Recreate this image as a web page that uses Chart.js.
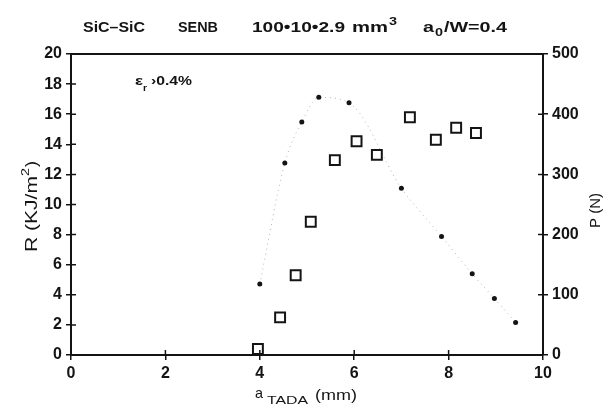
<!DOCTYPE html>
<html>
<head>
<meta charset="utf-8">
<script src="https://cdn.jsdelivr.net/npm/chart.js@4/dist/chart.umd.min.js"></script>
<style>
  html, body { margin: 0; padding: 0; background: #fff; }
  #wrap { width: 606px; height: 406px; }
</style>
</head>
<body>
<div id="wrap"><canvas id="c" width="606" height="406"></canvas></div>
<script>
// Crack resistance R (kJ/m²) against crack length a (mm)
const crackLenR = [3.96, 4.43, 4.76, 5.08, 5.59, 6.05, 6.48, 7.18, 7.73, 8.16, 8.58];
const resistanceR = [0.4, 2.5, 5.3, 8.85, 12.95, 14.2, 13.3, 15.8, 14.3, 15.1, 14.75];

// Load P (N) against crack length a (mm)
const crackLenP = [4.0, 4.53, 4.89, 5.25, 5.89, 7.0, 7.85, 8.5, 8.97, 9.42];
const loadP = [118, 319, 387, 428, 419, 277, 197, 135, 94, 54];

// Axis ranges and tick steps
const xRange = [0, 10], xStep = 2;
const rRange = [0, 20], rStep = 2;
const pRange = [0, 500], pStep = 100;

const INK = '#141414';
const FONT = '"Liberation Sans", Arial, sans-serif';

const toPoints = (xs, ys) => xs.map((x, i) => ({ x, y: ys[i] }));

// Draw a text run squeezed/stretched horizontally to a given width
function fitText(ctx, text, x, y, width, font) {
  ctx.save();
  ctx.font = font;
  const w = ctx.measureText(text).width;
  ctx.translate(x, y);
  ctx.scale(width / w, 1);
  ctx.fillText(text, 0, 0);
  ctx.restore();
}

const decorations = {
  id: 'decorations',
  afterDraw(chart) {
    const { ctx, chartArea: a, scales } = chart;
    ctx.save();
    ctx.fillStyle = INK;
    ctx.strokeStyle = INK;
    ctx.textBaseline = 'alphabetic';
    ctx.textAlign = 'left';

    // top frame line
    ctx.lineWidth = 2;
    ctx.beginPath();
    ctx.moveTo(a.left - 1, a.top);
    ctx.lineTo(a.right + 1, a.top);
    ctx.stroke();

    // tick marks reaching into the plot area
    ctx.lineWidth = 1.5;
    ctx.beginPath();
    scales.x.ticks.forEach(t => {
      const px = scales.x.getPixelForValue(t.value);
      ctx.moveTo(px, a.bottom);
      ctx.lineTo(px, a.bottom - 5);
    });
    scales.y.ticks.forEach(t => {
      const py = scales.y.getPixelForValue(t.value);
      ctx.moveTo(a.left, py);
      ctx.lineTo(a.left + 5, py);
    });
    scales.y1.ticks.forEach(t => {
      const py = scales.y1.getPixelForValue(t.value);
      ctx.moveTo(a.right, py);
      ctx.lineTo(a.right - 5, py);
    });
    ctx.stroke();

    // heading
    const hb = 'bold 15px ' + FONT;
    const hs = 'bold 11px ' + FONT;
    fitText(ctx, 'SiC\u2013SiC', 83, 32, 62, hb);
    fitText(ctx, 'SENB', 178, 32, 40, hb);
    fitText(ctx, '100\u202210\u20222.9', 252, 32, 93, hb);
    fitText(ctx, 'mm', 352, 32, 36, hb);
    fitText(ctx, '3', 389, 25, 8, hs);
    fitText(ctx, 'a', 423, 32, 11, hb);
    fitText(ctx, '0', 435, 36, 8, hs);
    fitText(ctx, '/W=0.4', 444, 32, 63, hb);

    // strain note inside the plot
    fitText(ctx, '\u03b5', 135, 85, 8, 'bold 13px ' + FONT);
    fitText(ctx, 'r', 143, 91, 4, 'bold 9px ' + FONT);
    fitText(ctx, '\u203a0.4%', 151, 85, 41, 'bold 13px ' + FONT);

    // x-axis title
    fitText(ctx, 'a', 255, 398, 8, '15px ' + FONT);
    fitText(ctx, 'TADA', 267, 404, 41, '10px ' + FONT);
    fitText(ctx, '(mm)', 315, 400, 42, '15px ' + FONT);

    // left axis title
    ctx.save();
    ctx.translate(37, 252);
    ctx.rotate(-Math.PI / 2);
    fitText(ctx, 'R (KJ/m', 0, 0, 76, '16px ' + FONT);
    fitText(ctx, '2', 76, -8, 8, '11px ' + FONT);
    fitText(ctx, ')', 85, 0, 6, '16px ' + FONT);
    ctx.restore();

    // right axis title
    ctx.save();
    ctx.translate(600, 228);
    ctx.rotate(-Math.PI / 2);
    fitText(ctx, 'P (N)', 0, 0, 35, '14px ' + FONT);
    ctx.restore();

    ctx.restore();
  }
};

const tickFont = { family: FONT, size: 16, weight: 'bold' };

new Chart(document.getElementById('c'), {
  type: 'scatter',
  data: {
    datasets: [
      {
        label: 'R',
        data: toPoints(crackLenR, resistanceR),
        yAxisID: 'y',
        pointStyle: 'rect',
        radius: 7,
        borderWidth: 2,
        borderColor: INK,
        backgroundColor: 'rgba(0,0,0,0)',
        showLine: false,
        order: 1
      },
      {
        label: 'P',
        data: toPoints(crackLenP, loadP),
        yAxisID: 'y1',
        showLine: true,
        cubicInterpolationMode: 'monotone',
        borderColor: '#b4b4b4',
        borderWidth: 1,
        borderDash: [1, 4],
        pointRadius: 2.5,
        pointBorderWidth: 0,
        pointBackgroundColor: INK,
        order: 2
      }
    ]
  },
  options: {
    responsive: false,
    animation: false,
    layout: { padding: { top: 54, left: 0, right: 0, bottom: 0 } },
    plugins: { legend: { display: false }, tooltip: { enabled: false } },
    scales: {
      x: {
        type: 'linear',
        min: xRange[0], max: xRange[1],
        ticks: { stepSize: xStep, color: INK, font: tickFont, padding: 4 },
        grid: { drawOnChartArea: false, drawTicks: true, tickLength: 5, color: INK, lineWidth: 1.5 },
        border: { display: true, color: INK, width: 2 },
        afterFit: s => { s.height = 51; }
      },
      y: {
        position: 'left',
        min: rRange[0], max: rRange[1],
        ticks: { stepSize: rStep, color: INK, font: tickFont, padding: 4 },
        grid: { drawOnChartArea: false, drawTicks: true, tickLength: 5, color: INK, lineWidth: 1.5 },
        border: { display: true, color: INK, width: 2 },
        afterFit: s => { s.width = 71; }
      },
      y1: {
        position: 'right',
        min: pRange[0], max: pRange[1],
        ticks: { stepSize: pStep, color: INK, font: tickFont, padding: 4 },
        grid: { drawOnChartArea: false, drawTicks: true, tickLength: 5, color: INK, lineWidth: 1.5 },
        border: { display: true, color: INK, width: 2 },
        afterFit: s => { s.width = 63; }
      }
    }
  },
  plugins: [decorations]
});
</script>
</body>
</html>
